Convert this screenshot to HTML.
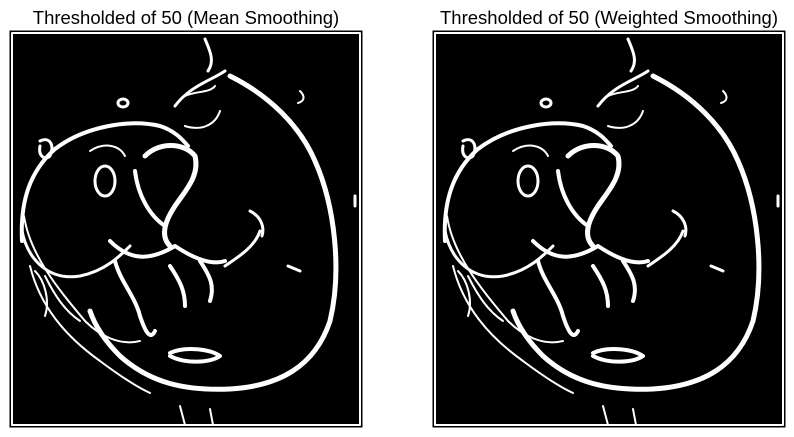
<!DOCTYPE html>
<html><head><meta charset="utf-8"><style>
html,body{margin:0;padding:0;background:#fff;width:794px;height:437px;overflow:hidden}
svg{display:block}
text{font-family:"Liberation Sans","DejaVu Sans",sans-serif;font-size:18.5px;fill:#000}
</style></head><body>
<svg width="794" height="437" viewBox="0 0 794 437">
<defs>
<g id="edges" fill="none" stroke="#fff" stroke-linecap="round" stroke-linejoin="round">
  <rect x="2" y="2" width="348" height="392" stroke-width="2"/>
  <path d="M12 210 C10 170 20 140 45 118 C75 95 120 88 150 95 C165 100 172 108 178 115" stroke-width="4"/>
  <path d="M12 200 C18 230 40 250 70 245 C95 240 110 225 120 215" stroke-width="3"/>
  <path d="M14 185 C20 225 50 260 75 290 C90 305 110 315 130 310" stroke-width="2"/>
  <path d="M220 45 C260 65 290 95 305 130 C325 175 332 240 320 290 C305 335 270 355 220 358 C175 360 140 352 110 325 C95 310 85 295 80 280" stroke-width="5"/>
  <path d="M20 235 C30 275 55 305 90 330 C110 345 125 355 140 362" stroke-width="2"/>
  <path d="M195 8 C200 20 205 30 198 40 M165 75 C180 55 200 50 215 40" stroke-width="3"/>
  <path d="M175 65 C185 60 200 62 205 55 M175 95 C190 100 205 95 210 80" stroke-width="2"/>
  <path d="M135 125 C150 110 175 112 185 125 C190 145 175 160 165 175 C155 190 150 205 160 215" stroke-width="5"/>
  <path d="M125 140 C128 165 140 185 155 195" stroke-width="4"/>
  <path d="M100 210 C120 230 140 230 165 215 C180 225 200 235 215 230" stroke-width="4"/>
  <path d="M105 230 C110 250 125 265 130 285 C135 300 140 310 145 300" stroke-width="4"/>
  <path d="M160 235 C170 250 175 260 175 275 M190 230 C200 245 205 255 200 270" stroke-width="4"/>
  <ellipse cx="95" cy="150" rx="10" ry="15" stroke-width="3"/>
  <path d="M80 120 C95 110 110 115 115 125" stroke-width="2"/>
  <path d="M30 110 C40 105 45 115 40 125 C35 130 28 125 30 115" stroke-width="3"/>
  <ellipse cx="113" cy="72" rx="5" ry="4" stroke-width="3"/>
  <path d="M160 322 C175 315 200 318 210 325 C200 332 175 333 160 325" stroke-width="4"/>
  <path d="M278 235 L290 240" stroke-width="3"/>
  <path d="M290 60 C295 65 295 70 288 72" stroke-width="2"/>
  <path d="M345 165 L345 175" stroke-width="3"/>
  <path d="M25 240 C35 250 40 270 35 285 M35 245 C45 265 55 280 70 290" stroke-width="2"/>
  <path d="M170 375 L175 394 M200 378 L203 394" stroke-width="2"/>
  <path d="M215 235 C230 225 245 215 250 200 M240 180 C250 185 255 195 252 205" stroke-width="3"/>
</g>
</defs>

<text x="186" y="24" text-anchor="middle">Thresholded of 50 (Mean Smoothing)</text>
<text x="609" y="24" text-anchor="middle">Thresholded of 50 (Weighted Smoothing)</text>

<g transform="translate(10,31)">
  <rect x="0" y="0" width="352" height="396" fill="#000" stroke="#000"/>
  <use href="#edges"/>
</g>
<g transform="translate(433,31)">
  <rect x="0" y="0" width="352" height="396" fill="#000" stroke="#000"/>
  <use href="#edges" style="stroke-width:0.8"/>
</g>
</svg>
</body></html>
